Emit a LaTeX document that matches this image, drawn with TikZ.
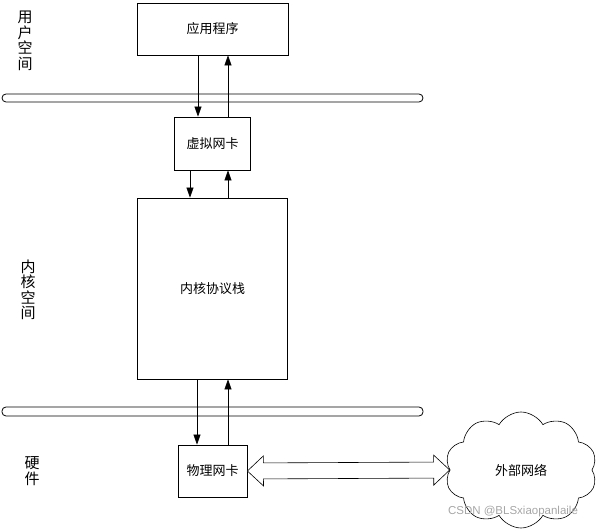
\documentclass[tikz,border=0pt]{standalone}
\usepackage{fontspec}
\setmainfont{Liberation Sans}
\newfontfamily\cjk{Noto Sans CJK SC}
\usepackage{tikz}
\usetikzlibrary{arrows.meta, shapes.symbols, calc}

\begin{document}
\begin{tikzpicture}[x=1pt, y=-1pt,
    box/.style = {draw, line width=0.8pt, inner sep=0pt, font=\cjk\fontsize{13}{15}\selectfont},
    bus/.style = {draw, line width=0.8pt, rounded corners=4pt, minimum width=421pt, inner sep=0pt},
    side/.style = {align=center, inner sep=0pt, font=\cjk\fontsize{15}{15.5}\selectfont},
    link/.style = {-{Triangle[length=10pt,width=7pt]}, line width=0.6pt}]
    \useasboundingbox (0,0) rectangle (598,529);

    % layers
    \node[side] (user) at (25,41) {用\\户\\空\\间};
    \node[side] (kernel) at (28,290) {内\\核\\空\\间};
    \node[side] (hw) at (32,471) {硬\\件};

    \node[bus, minimum height=8pt] (bus1) at (212.5,98) {};
    \node[bus, minimum height=9pt] (bus2) at (212.5,411.5) {};

    % boxes
    \node[box, minimum width=151pt, minimum height=52pt] (app) at (212.5,29) {应用程序};
    \node[box, minimum width=76pt, minimum height=53pt] (vnic) at (212.5,143.5) {虚拟网卡};
    \node[box, minimum width=150pt, minimum height=181pt] (stack) at (212.5,288.5) {内核协议栈};
    \node[box, minimum width=69pt, minimum height=52pt] (phys) at (212.5,471) {物理网卡};

    \node[cloud, draw, line width=0.6pt, cloud puffs=10, cloud puff arc=120, aspect=1.3,
          minimum width=152pt, minimum height=116pt, inner sep=0pt,
          font=\cjk\fontsize{13}{15}\selectfont] (net) at (521,470) {外部网络};

    \path[link] ([xshift=-14.5pt]app.south) edge ([xshift=-14.5pt]vnic.north);
    \path[link] ([xshift=15.5pt]vnic.north) edge ([xshift=15.5pt]app.south);

    \path[link] ([xshift=-22.5pt]vnic.south) edge ([xshift=-22.5pt]stack.north);
    \path[link] ([xshift=15.5pt]stack.north) edge ([xshift=15.5pt]vnic.south);

    \path[link] ([xshift=-15.5pt]stack.south) edge ([xshift=-15.5pt]phys.north);
    \path[link] ([xshift=15.5pt]phys.north) edge ([xshift=15.5pt]stack.south);

    % hollow double arrow to the network
    \coordinate (L) at (phys.east);
    \coordinate (R) at (net.west);
    \draw[line width=0.6pt, fill=white] (L)
        -- ($(L)!16pt!(R)!15pt!90:(R)$) -- ($(L)!16pt!(R)!8pt!90:(R)$)
        -- ($(R)!16pt!(L)!8pt!-90:(L)$) -- ($(R)!16pt!(L)!15pt!-90:(L)$)
        -- (R)
        -- ($(R)!16pt!(L)!15pt!90:(L)$) -- ($(R)!16pt!(L)!8pt!90:(L)$)
        -- ($(L)!16pt!(R)!8pt!-90:(R)$) -- ($(L)!16pt!(R)!15pt!-90:(R)$)
        -- cycle;

    \node[text=black!35, inner sep=0pt, font=\fontsize{11.5}{13}\selectfont] (mark) at (513,512) {CSDN @BLSxiaopanlaile};
\end{tikzpicture}
\end{document}
